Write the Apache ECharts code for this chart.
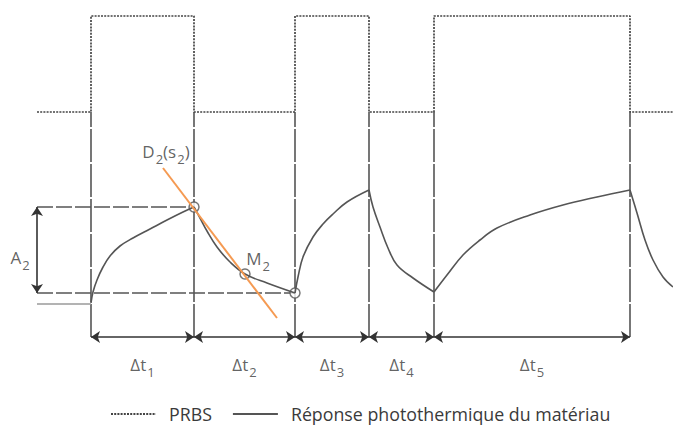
<!DOCTYPE html>
<html><head><meta charset="utf-8">
<script src="https://cdn.jsdelivr.net/npm/echarts@6/dist/echarts.min.js"></script>
<style>html,body{margin:0;padding:0;background:#fff}#c{width:673px;height:428px}</style>
</head><body><div id="c"></div><script>
// ---- PRBS excitation (time in px-units, level on inverted axis) ----
const prbsTimes  = [37, 91, 194, 295, 369, 434, 630, 673];
const prbsStates = [0, 1, 0, 1, 0, 1, 0, 0];
const prbsLow = 112, prbsHigh = 16;
// ---- switching instants (boundaries of the Δt intervals) ----
const switchTimes = [91, 194, 295, 369, 434, 630];
const intervalIndex = ['1', '2', '3', '4', '5'];
// ---- photothermal response ----
const responseBase  = [[37, 304], [91, 304]];
const responseRise1 = [[91, 303], [93, 292], [97, 280], [103, 267], [110, 256], [120, 246], [133, 238], [150, 229], [167, 220], [183, 212], [194, 207]];
const responseFall2 = [[194, 207], [200, 218], [207, 231], [217, 247], [230, 262], [245, 274], [267, 283], [295, 293]];
const responseRise3 = [[295, 293], [298, 277], [303, 257], [313, 237], [323, 224], [333, 214], [347, 202], [369, 190]];
const responseFall4 = [[369, 190], [373, 207], [380, 227], [388, 248], [397, 265], [413, 278], [434, 292]];
const responseRise5 = [[434, 292], [447, 275], [463, 255], [480, 240], [497, 228], [530, 215], [563, 205], [597, 197], [630, 190]];
const responseFall6 = [[630, 190], [637, 213], [645, 240], [653, 260], [663, 277], [673, 287]];
// ---- construction ----
const tangentD2 = [[163, 168], [277, 318]];
const markedPoints = [[194, 207], [245, 274], [295, 293]];
const amplitudeAxisX = 37;
const dimensionLevel = 337;
const labelLevel = 366;

const FONT = 'Open Sans';
const GREY = '#555';
const TXT = '#3a3a3a';
const NAME_P = 'PRBS';
const NAME_R = 'Réponse photothermique du matériau';

const prbsData = prbsTimes.map((t, i) => [t, prbsStates[i] ? prbsHigh : prbsLow]);
const responseSegs = [responseRise1, responseFall2, responseRise3, responseFall4, responseRise5, responseFall6];

const rich = {
  n: {fontFamily: FONT, fontSize: 17, color: TXT, lineHeight: 20, verticalAlign: 'top'},
  s: {fontFamily: FONT, fontSize: 13, color: TXT, lineHeight: 13, padding: [9, 0, 0, 1], verticalAlign: 'top'}
};
function sub(parts) { return parts.map(p => `{${p[0]}|${p[1]}}`).join(''); }

const labelItems = [];
for (let i = 0; i < intervalIndex.length; i++) {
  labelItems.push({value: [(switchTimes[i] + switchTimes[i + 1]) / 2, labelLevel], txt: sub([['n', 'Δt'], ['s', intervalIndex[i]]])});
}
labelItems.push({value: [166, 153], txt: sub([['n', 'D'], ['s', '2'], ['n', '(s'], ['s', '2'], ['n', ')']])});
labelItems.push({value: [258, 260], txt: sub([['n', 'M'], ['s', '2']])});
labelItems.push({value: [20, 259], txt: sub([['n', 'A'], ['s', '2']])});

const peak = markedPoints[0], trough = markedPoints[2];

const series = [];
series.push({
  type: 'lines', coordinateSystem: 'cartesian2d', silent: true, symbol: 'none',
  lineStyle: {color: GREY, width: 1.6, type: [33, 2], opacity: 1},
  data: switchTimes.map(t => ({coords: [[t, dimensionLevel], [t, prbsLow]]}))
});
series.push({
  type: 'lines', coordinateSystem: 'cartesian2d', silent: true, symbol: 'none',
  lineStyle: {color: GREY, width: 1.6, type: [16, 3], opacity: 1},
  data: [{coords: [[amplitudeAxisX, peak[1]], [peak[0], peak[1]]]},
         {coords: [[amplitudeAxisX, trough[1]], [trough[0], trough[1]]]}]
});
series.push({
  type: 'lines', coordinateSystem: 'cartesian2d', silent: true,
  symbol: ['arrow', 'arrow'], symbolSize: 9,
  lineStyle: {color: '#333', width: 1.6, opacity: 1},
  data: switchTimes.slice(0, -1).map((t, i) => ({coords: [[t, dimensionLevel], [switchTimes[i + 1], dimensionLevel]]}))
    .concat([{coords: [[amplitudeAxisX, peak[1]], [amplitudeAxisX, trough[1]]]}])
});
series.push({
  name: NAME_P, type: 'line', step: 'end', data: prbsData, symbol: 'none', showSymbol: false, silent: true,
  lineStyle: {color: '#444', width: 1.7, type: [2, 1.2]}, itemStyle: {color: '#444'}
});
series.push({
  name: 'base', type: 'line', data: responseBase, symbol: 'none', silent: true,
  lineStyle: {color: '#9a9a9a', width: 1.6}
});
responseSegs.forEach(seg => series.push({
  name: NAME_R, type: 'line', data: seg, symbol: 'none', showSymbol: false, smooth: 0.4, silent: true,
  lineStyle: {color: GREY, width: 1.6}, itemStyle: {color: GREY}
}));
series.push({
  name: 'tangent', type: 'line', data: tangentD2, symbol: 'none', silent: true,
  lineStyle: {color: '#F59A52', width: 2}
});
series.push({
  name: 'points', type: 'scatter', data: markedPoints, symbol: 'circle', symbolSize: 10, silent: true,
  itemStyle: {color: '#fff', borderColor: GREY, borderWidth: 1.5}
});
series.push({
  name: 'labels', type: 'scatter', symbolSize: 0, silent: true,
  data: labelItems.map(d => ({value: d.value, label: {formatter: d.txt}})),
  label: {show: true, position: 'inside', rich: rich}
});

const chart = echarts.init(document.getElementById('c'), null, {renderer: 'svg'});
chart.setOption({
  animation: false,
  backgroundColor: '#fff',
  grid: {left: 0, right: 0, top: 0, bottom: 0},
  xAxis: {type: 'value', min: 0, max: 673, show: false},
  yAxis: {type: 'value', min: 0, max: 428, inverse: true, show: false},
  legend: {
    data: [NAME_P, NAME_R], left: 105, top: 400, itemWidth: 45, itemHeight: 18, itemGap: 20,
    selectedMode: false,
    itemStyle: {opacity: 0},
    textStyle: {fontFamily: FONT, fontSize: 17.8, color: TXT, padding: [0, 0, 0, 8]}
  },
  series: series
});
</script></body></html>
